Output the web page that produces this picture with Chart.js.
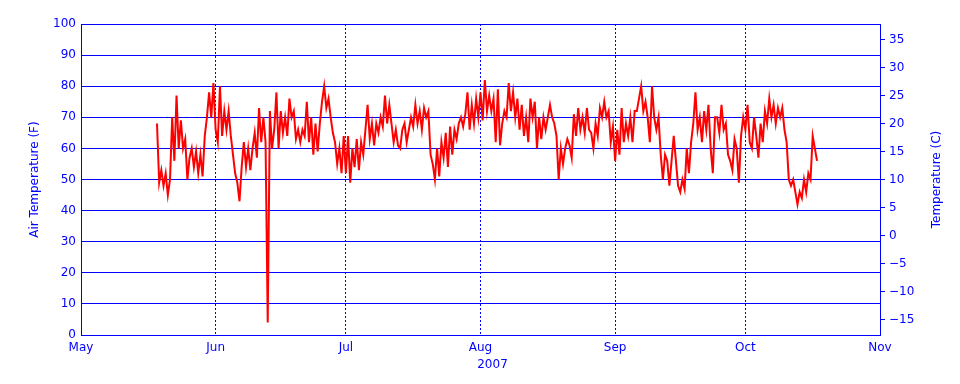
<!DOCTYPE html>
<html>
<head>
<meta charset="utf-8">
<title>Air Temperature 2007</title>
<script src="https://cdn.jsdelivr.net/npm/chart.js@4.4.0/dist/chart.umd.min.js"></script>
<style>
    body { margin: 0; background: #ffffff; }
    #wrap { width: 960px; height: 384px; }
</style>
</head>
<body>
<div id="wrap"><canvas id="tempChart" width="960" height="384"></canvas></div>
<script>
// Month ticks, in days since May 1, 2007
const monthLabels = ['May', 'Jun', 'Jul', 'Aug', 'Sep', 'Oct', 'Nov'];
const monthStartDay = [0, 31, 61, 92, 123, 153, 184];
const yearLabel = '2007';

// Axis ticks
const fahrenheitRange = [0, 100];
const celsiusTicks = [-15, -10, -5, 0, 5, 10, 15, 20, 25, 30, 35];

// Air temperature (F), two readings a day; May starts on the 18th at noon
const mayStartDay = 17.5;
const mayTemps = [68, 49, 53, 48, 52, 45, 50, 70, 56, 77, 60, 69, 60, 63, 50, 57, 60, 54, 59, 52,
    58, 51, 64, 70, 78, 70, 81];
const junTemps = [66, 62, 80, 64, 72, 66, 72, 64, 58, 52, 49, 43, 54, 62, 54, 60, 53, 60, 65, 57,
    73, 62, 70, 62, 4, 72, 60, 66, 78, 60, 72, 65, 70, 64, 76, 70, 72, 63, 66, 62,
    66, 64, 75, 62, 70, 58, 68, 59, 68, 75, 80, 73, 76, 70, 65, 62, 55, 60, 52, 64];
const julTemps = [52, 64, 49, 60, 54, 63, 53, 62, 58, 66, 74, 63, 68, 61, 68, 65, 70, 67, 77, 68,
    74, 68, 62, 66, 61, 60, 66, 68, 62, 66, 70, 67, 74, 68, 72, 66, 73, 70, 72, 58,
    55, 50, 60, 51, 62, 57, 65, 54, 67, 58, 66, 63, 68, 70, 67, 71, 78, 66, 74, 68,
    76, 70];
const augTemps = [78, 69, 82, 72, 77, 72, 76, 62, 79, 61, 68, 72, 70, 81, 72, 78, 70, 76, 66, 74,
    64, 70, 62, 76, 70, 75, 60, 70, 63, 70, 66, 70, 74, 70, 68, 64, 50, 60, 55, 60,
    63, 61, 57, 71, 64, 73, 66, 70, 65, 73, 66, 65, 60, 68, 64, 73, 70, 75, 70, 72,
    62, 67];
const sepTemps = [56, 66, 58, 73, 62, 68, 64, 70, 62, 72, 72, 76, 80, 72, 75, 70, 62, 80, 70, 66,
    70, 58, 50, 58, 56, 48, 56, 64, 56, 48, 46, 50, 47, 60, 52, 62, 68, 78, 66, 70,
    62, 72, 66, 74, 60, 52, 70, 70, 65, 74, 66, 68, 58, 56, 53, 63, 60, 49, 64, 70];
const octTemps = [66, 74, 62, 60, 70, 64, 57, 68, 62, 72, 68, 76, 70, 74, 68, 73, 70, 73, 66, 62,
    50, 48, 50, 46, 42, 46, 44, 50, 46, 52, 50, 64, 60, 56];

const blue = '#0000ff';
const labelFont = { family: '"DejaVu Sans", sans-serif', size: 12 };

// Build the point list from the month arrays
const monthTemps = [mayTemps, junTemps, julTemps, augTemps, sepTemps, octTemps];
const monthFirstDay = [mayStartDay, monthStartDay[1], monthStartDay[2], monthStartDay[3], monthStartDay[4], monthStartDay[5]];
const points = [];
monthTemps.forEach((temps, m) => {
    temps.forEach((t, i) => points.push({ x: monthFirstDay[m] + i * 0.5, y: t }));
});

const toCelsius = f => (f - 32) * 5 / 9;

// Year under the axis and right-hand title (reads bottom to top)
const extraText = {
    id: 'extraText',
    afterDraw(chart) {
        const { ctx, chartArea, scales } = chart;
        ctx.save();
        ctx.fillStyle = blue;
        ctx.font = '12px "DejaVu Sans", sans-serif';
        ctx.textAlign = 'center';
        ctx.textBaseline = 'middle';
        ctx.fillText(yearLabel, scales.x.getPixelForValue(monthStartDay[3]) + 12, chartArea.bottom + 30);
        ctx.translate(scales.y2.right - 23, (chartArea.top + chartArea.bottom) / 2);
        ctx.rotate(-Math.PI / 2);
        ctx.fillText('Temperature (C)', 0, 0);
        ctx.restore();
    }
};

const tempCtx = document.getElementById('tempChart').getContext('2d');
const tempChart = new Chart(tempCtx, {
    type: 'line',
    data: {
        datasets: [{
            label: 'Air Temperature',
            data: points,
            borderColor: '#ff0000',
            borderWidth: 2,
            pointRadius: 0,
            tension: 0,
            fill: false,
            yAxisID: 'y'
        }]
    },
    options: {
        responsive: false,
        animation: false,
        layout: { padding: { top: 24, left: 0, right: 0, bottom: 0 } },
        plugins: {
            legend: { display: false },
            tooltip: { enabled: false }
        },
        scales: {
            x: {
                type: 'linear',
                min: monthStartDay[0],
                max: monthStartDay[monthStartDay.length - 1],
                afterBuildTicks: scale => {
                    scale.ticks = monthStartDay.map(v => ({ value: v }));
                },
                afterFit: scale => { scale.height = 49; },
                ticks: {
                    color: blue,
                    font: labelFont,
                    padding: 6,
                    autoSkip: false,
                    maxRotation: 0,
                    callback: value => monthLabels[monthStartDay.indexOf(value)]
                },
                grid: {
                    color: ctx => (ctx.index === 0 || ctx.index === monthStartDay.length - 1) ? 'rgba(0,0,0,0)' : blue,
                    lineWidth: 1,
                    drawTicks: false
                },
                border: { color: blue, dash: [2, 2] }
            },
            y: {
                position: 'left',
                min: fahrenheitRange[0],
                max: fahrenheitRange[1],
                afterFit: scale => { scale.width = 81; },
                ticks: { stepSize: 10, color: blue, font: labelFont, padding: 5 },
                grid: { color: blue, lineWidth: 1, drawTicks: false },
                border: { color: blue },
                title: {
                    display: true,
                    text: 'Air Temperature (F)',
                    color: blue,
                    font: labelFont,
                    padding: { top: 28, bottom: 0 }
                }
            },
            y2: {
                position: 'right',
                min: toCelsius(fahrenheitRange[0]),
                max: toCelsius(fahrenheitRange[1]),
                afterBuildTicks: scale => {
                    scale.ticks = celsiusTicks.map(v => ({ value: v }));
                },
                afterFit: scale => { scale.width = 80; },
                ticks: {
                    color: blue,
                    font: labelFont,
                    padding: 4,
                    callback: value => value < 0 ? '\u2212' + Math.abs(value) : String(value)
                },
                grid: { drawOnChartArea: false, drawTicks: true, tickLength: 5, color: blue },
                border: { color: blue }
            }
        }
    },
    plugins: [extraText]
});
</script>
</body>
</html>
